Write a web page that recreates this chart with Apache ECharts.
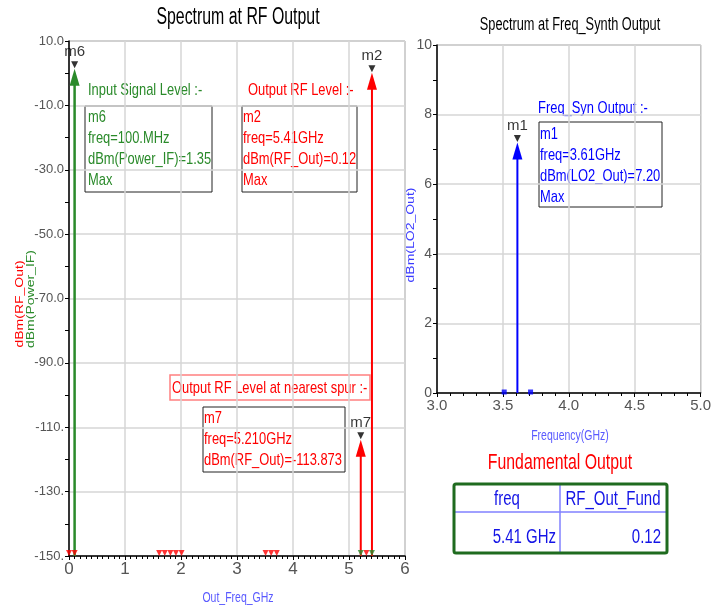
<!DOCTYPE html>
<html>
<head>
<meta charset="utf-8">
<script src="https://cdn.jsdelivr.net/npm/echarts@6/dist/echarts.min.js"></script>
<style>
html, body { margin: 0; padding: 0; background: #fff; }
#chart { width: 714px; height: 608px; }
</style>
</head>
<body>
<div id="chart"></div>
<script>
// spectrum components (GHz, dBm)
const rfFreq = [5.21, 5.41]
const rfLevel = [-113.873, 0.12]
const ifFreq = [0.1]
const ifLevel = [1.35]
const loFreq = [3.61]
const loLevel = [7.20]
// components clipped at the floor of each plot
const rfFloorFreq = [0, 0.1, 1.61, 1.71, 1.81, 1.91, 2.01, 3.51, 3.61, 3.71, 5.31]
const ifFloorFreq = [5.21, 5.41]
const loFloorFreq = [3.51, 3.71]
// markers
const markerNames = ['m6', 'm2', 'm7', 'm1']
const markerFreq = [0.1, 5.41, 5.21, 3.61]
const markerLevel = [1.35, 0.12, -113.873, 7.20]
const markerPlot = [0, 0, 0, 1]
// tick labels
const rfYTicks = ['-150.', '-130.', '-110.', '-90.0', '-70.0', '-50.0', '-30.0', '-10.0', '10.0']
const rfXTicks = ['0', '1', '2', '3', '4', '5', '6']
const loYTicks = ['0', '2', '4', '6', '8', '10']
const loXTicks = ['3.0', '3.5', '4.0', '4.5', '5.0']

const FONT = '"Liberation Sans", Arial, sans-serif'
const RED = '#ff0000', GREEN = '#2a8a2a', BLUE = '#0000ff', TXTBLUE = '#1414e6'
const RF_FLOOR = -150, LO_FLOOR = 0
const SQ = 0.76 // narrow look of the original lettering

const spectrum = (color, floor, lw) => (params, api) => {
    const top = api.coord([api.value(0), api.value(1)])
    const bot = api.coord([api.value(0), floor])
    return {
        type: 'group',
        children: [
            { type: 'line', shape: { x1: bot[0], y1: bot[1], x2: top[0], y2: top[1] + 10 }, style: { stroke: color, lineWidth: lw } },
            { type: 'polygon', shape: { points: [[top[0], top[1]], [top[0] - 5, top[1] + 17], [top[0] + 5, top[1] + 17]] }, style: { fill: color } }
        ]
    }
}

// flat text helper, horizontally squeezed
const txt = (x, y, text, size, fill, align, extra) => Object.assign({
    type: 'text', x: x, y: y, scaleX: SQ,
    style: { text: text, font: size + 'px ' + FONT, fill: fill, textAlign: align || 'left', textVerticalAlign: 'middle' }
}, extra || {})
// vertical axis name, reads bottom to top
const vtxt = (x, y, text, fill) => ({
    type: 'text', x: x, y: y, rotation: Math.PI / 2, scaleY: SQ,
    style: { text: text, font: '14px ' + FONT, fill: fill, textAlign: 'center', textVerticalAlign: 'middle' }
})
const box = (x, y, w, h, stroke, lw) => ({
    type: 'rect', shape: { x: x, y: y, width: w, height: h }, style: { fill: '#fff', stroke: stroke || '#222', lineWidth: lw || 1 }
})
const readout = (x, y, text, fill) => ({
    type: 'text', x: x, y: y, scaleX: SQ,
    style: { text: text, font: '17px ' + FONT, lineHeight: 21, fill: fill }
})

const tickStyle = { show: true, length: 4, lineStyle: { color: '#000' } }
const gridLine = { show: true, lineStyle: { color: '#d6d6d6', width: 1.5 } }
const axisLine = { show: true, onZero: false, lineStyle: { color: '#000', width: 1.5 } }

const chart = echarts.init(document.getElementById('chart'))
chart.setOption({
    animation: false,
    backgroundColor: '#fff',
    grid: [
        { left: 69, top: 41, width: 336, height: 515, show: true, borderColor: '#888', borderWidth: 1 },
        { left: 437, top: 45, width: 266, height: 348, show: true, borderColor: '#888', borderWidth: 1 }
    ],
    xAxis: [
        {
            gridIndex: 0, type: 'value', min: 0, max: 6, interval: 1,
            axisLine: axisLine, axisTick: tickStyle, splitLine: gridLine,
            minorTick: { show: true, splitNumber: 10, length: 3, lineStyle: { color: '#000' } },
            axisLabel: { margin: 5, color: '#555', fontFamily: FONT, fontSize: 17, formatter: (v) => rfXTicks[Math.round(v)] }
        },
        {
            gridIndex: 1, type: 'value', min: 3, max: 5, interval: 0.5,
            axisLine: axisLine, axisTick: tickStyle, splitLine: gridLine,
            minorTick: { show: true, splitNumber: 5, length: 3, lineStyle: { color: '#000' } },
            axisLabel: { margin: 5, color: '#555', fontFamily: FONT, fontSize: 15, formatter: (v) => loXTicks[Math.round((v - 3) * 2)] }
        }
    ],
    yAxis: [
        {
            gridIndex: 0, type: 'value', min: -150, max: 10, interval: 20,
            axisLine: axisLine, axisTick: tickStyle, splitLine: gridLine,
            minorTick: { show: true, splitNumber: 2, length: 4, lineStyle: { color: '#000' } },
            axisLabel: { margin: 5, color: '#555', fontFamily: FONT, fontSize: 13, formatter: (v) => rfYTicks[Math.round((v + 150) / 20)] }
        },
        {
            gridIndex: 1, type: 'value', min: 0, max: 10, interval: 2,
            axisLine: axisLine, axisTick: tickStyle, splitLine: gridLine,
            minorTick: { show: true, splitNumber: 2, length: 4, lineStyle: { color: '#000' } },
            axisLabel: { margin: 5, color: '#555', fontFamily: FONT, fontSize: 14, formatter: (v) => loYTicks[Math.round(v / 2)] }
        }
    ],
    series: [
        {
            type: 'scatter', xAxisIndex: 0, yAxisIndex: 0, symbol: 'triangle', symbolRotate: 180,
            symbolSize: 6, symbolOffset: [0, -3], itemStyle: { color: RED },
            data: rfFloorFreq.map(f => [f, RF_FLOOR])
        },
        {
            type: 'scatter', xAxisIndex: 0, yAxisIndex: 0, symbol: 'triangle', symbolRotate: 180,
            symbolSize: 6, symbolOffset: [0, -3], itemStyle: { color: GREEN },
            data: ifFloorFreq.map(f => [f, RF_FLOOR])
        },
        {
            type: 'scatter', xAxisIndex: 1, yAxisIndex: 1, symbol: 'rect',
            symbolSize: 5, symbolOffset: [0, -1], itemStyle: { color: BLUE },
            data: loFloorFreq.map(f => [f, LO_FLOOR])
        },
        {
            type: 'custom', xAxisIndex: 0, yAxisIndex: 0, renderItem: spectrum(GREEN, RF_FLOOR, 2.5),
            data: ifFreq.map((f, i) => [f, ifLevel[i]])
        },
        {
            type: 'custom', xAxisIndex: 0, yAxisIndex: 0, renderItem: spectrum(RED, RF_FLOOR, 2),
            data: rfFreq.map((f, i) => [f, rfLevel[i]])
        },
        {
            type: 'custom', xAxisIndex: 1, yAxisIndex: 1, renderItem: spectrum(BLUE, LO_FLOOR, 2),
            data: loFreq.map((f, i) => [f, loLevel[i]])
        },
        ...[0, 1].map(p => ({
            type: 'scatter', xAxisIndex: p, yAxisIndex: p, symbol: 'triangle', symbolRotate: 180,
            symbolSize: 7, symbolOffset: [0, -4], itemStyle: { color: '#000' },
            label: { show: true, position: 'top', distance: 2, color: '#000', fontFamily: FONT, fontSize: 15, formatter: (d) => d.name },
            data: markerNames.map((n, i) => ({ name: n, value: [markerFreq[i], markerLevel[i]] })).filter((d, i) => markerPlot[i] === p)
        }))
    ],
    graphic: [
        // titles
        txt(238, 18, 'Spectrum at RF Output', 23, '#000', 'center', { scaleX: 0.69 }),
        txt(570, 25, 'Spectrum at Freq_Synth Output', 18, '#000', 'center', { scaleX: 0.71 }),
        // axis names
        vtxt(20, 304, 'dBm(RF_Out)', RED),
        vtxt(31, 299, 'dBm(Power_IF)', GREEN),
        vtxt(411, 235, 'dBm(LO2_Out)', '#3a3aff'),
        txt(238, 598, 'Out_Freq_GHz', 15, '#5a5aff', 'center', { scaleX: 0.7 }),
        txt(570, 436, 'Frequency(GHz)', 15, '#5a5aff', 'center', { scaleX: 0.7 }),
        // marker readouts, left plot
        txt(88, 90, 'Input Signal Level :-', 17, GREEN),
        box(85, 106, 127, 86),
        readout(88, 107, 'm6\nfreq=100.MHz\ndBm(Power_IF)=1.35\nMax', GREEN),
        txt(248, 90, 'Output RF Level :-', 17, RED),
        box(242, 106, 115, 86),
        readout(243, 107, 'm2\nfreq=5.41GHz\ndBm(RF_Out)=0.12\nMax', RED),
        box(170, 375, 200, 25, '#ff8080', 1.5),
        txt(172, 388, 'Output RF Level at nearest spur :-', 17, RED),
        box(203, 407, 142, 65),
        readout(204, 408, 'm7\nfreq=5.210GHz\ndBm(RF_Out)=-113.873', RED),
        // marker readout, right plot
        txt(538, 108, 'Freq_Syn Output :-', 17, BLUE),
        box(539, 122, 123, 85),
        readout(540, 124, 'm1\nfreq=3.61GHz\ndBm(LO2_Out)=7.20\nMax', BLUE),
        // fundamental output table
        txt(560, 463, 'Fundamental Output', 22, RED, 'center', { scaleX: 0.72 }),
        { type: 'line', shape: { x1: 454, y1: 512, x2: 666, y2: 512 }, style: { stroke: '#8080ff', lineWidth: 1.5 } },
        { type: 'line', shape: { x1: 560, y1: 484, x2: 560, y2: 552 }, style: { stroke: '#8080ff', lineWidth: 1.5 } },
        { type: 'rect', shape: { x: 454, y: 484, width: 213, height: 69, r: 2 }, style: { fill: 'none', stroke: '#1f6b1f', lineWidth: 3 } },
        txt(507, 499, 'freq', 20, TXTBLUE, 'center', { scaleX: 0.75 }),
        txt(613, 499, 'RF_Out_Fund', 20, TXTBLUE, 'center', { scaleX: 0.75 }),
        txt(556, 537, '5.41 GHz', 20, TXTBLUE, 'right', { scaleX: 0.75 }),
        txt(661, 537, '0.12', 20, TXTBLUE, 'right', { scaleX: 0.75 })
    ]
})
</script>
</body>
</html>
